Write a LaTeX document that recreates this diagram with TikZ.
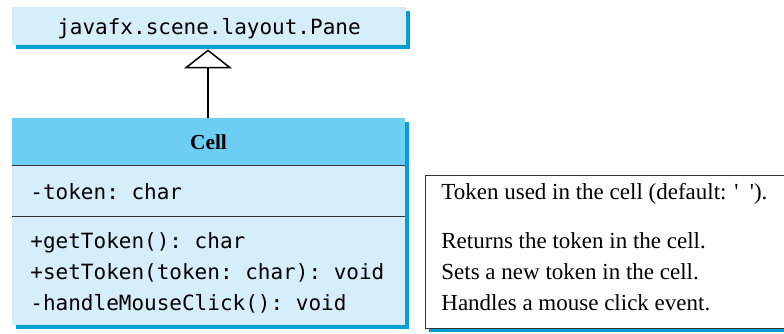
\documentclass[tikz,border=0pt]{standalone}
\usepackage{fontspec}
\setmainfont{Liberation Serif}
\setmonofont{DejaVu Sans Mono}
\usetikzlibrary{arrows.meta,shadows}
\definecolor{paneblue}{RGB}{213,238,250}
\definecolor{headblue}{RGB}{108,205,245}
\definecolor{shadeblue}{RGB}{0,160,210}
\definecolor{rulegray}{RGB}{50,50,50}
\begin{document}
\begin{tikzpicture}[x=0.5pt, y=-0.5pt,
    part/.style={rectangle, inner sep=0pt, fill=paneblue,
      general shadow={fill=shadeblue, shadow xshift=2pt, shadow yshift=-2pt}},
    code/.style={font=\ttfamily\fontsize{10.5}{12}\selectfont, anchor=base west, inner sep=0pt},
    note/.style={font=\fontsize{11.5}{13}\selectfont, anchor=base west, inner sep=0pt}
]
\clip (0,0) rectangle (784,333);
% superclass
\node[part, minimum width=197pt, minimum height=19pt] (pane) at (209,26) {};
\node[code, anchor=base] (panename) at (209,34) {javafx.scene.layout.Pane};
% class Cell
\node[part, fill=headblue, minimum width=196.5pt, minimum height=23.5pt] (head) at (208.5,141.5) {};
\node[part, minimum width=196.5pt, minimum height=25.5pt] (attrs) at (208.5,190.5) {};
\node[part, minimum width=196.5pt, minimum height=54.5pt] (ops) at (208.5,270.5) {};
\draw[rulegray, line width=0.5pt] (head.south west) -- (head.south east);
\draw[rulegray, line width=0.5pt] (attrs.south west) -- (attrs.south east);
\node[font=\bfseries\fontsize{10.7}{12}\selectfont, anchor=base, inner sep=0pt] (cellname) at (208.5,149) {Cell};
\node[code] (token) at (30,199) {-token: char};
\node[code] (get) at (30,248) {+getToken(): char};
\node[code] (set) at (30,279) {+setToken(token: char): void};
\node[code] (click) at (30,310) {-handleMouseClick(): void};
% inheritance
\draw[line width=0.75pt, -{Triangle[open, width=24pt, length=9.5pt]}]
  (head.north -| 208,0) -- ([yshift=-2pt]pane.south -| 208,0);
% notes
\node[part, fill=white, draw=rulegray, line width=0.5pt, minimum width=187.5pt, minimum height=76.5pt] (notes) at (612.5,251.5) {};
\node[note] (tokennote) at (441,199) {Token used in the cell (default: \textquotesingle\ \ \textquotesingle).};
\node[note] (getnote) at (441,248) {Returns the token in the cell.};
\node[note] (setnote) at (441,279) {Sets a new token in the cell.};
\node[note] (clicknote) at (441,310) {Handles a mouse click event.};
\end{tikzpicture}
\end{document}
